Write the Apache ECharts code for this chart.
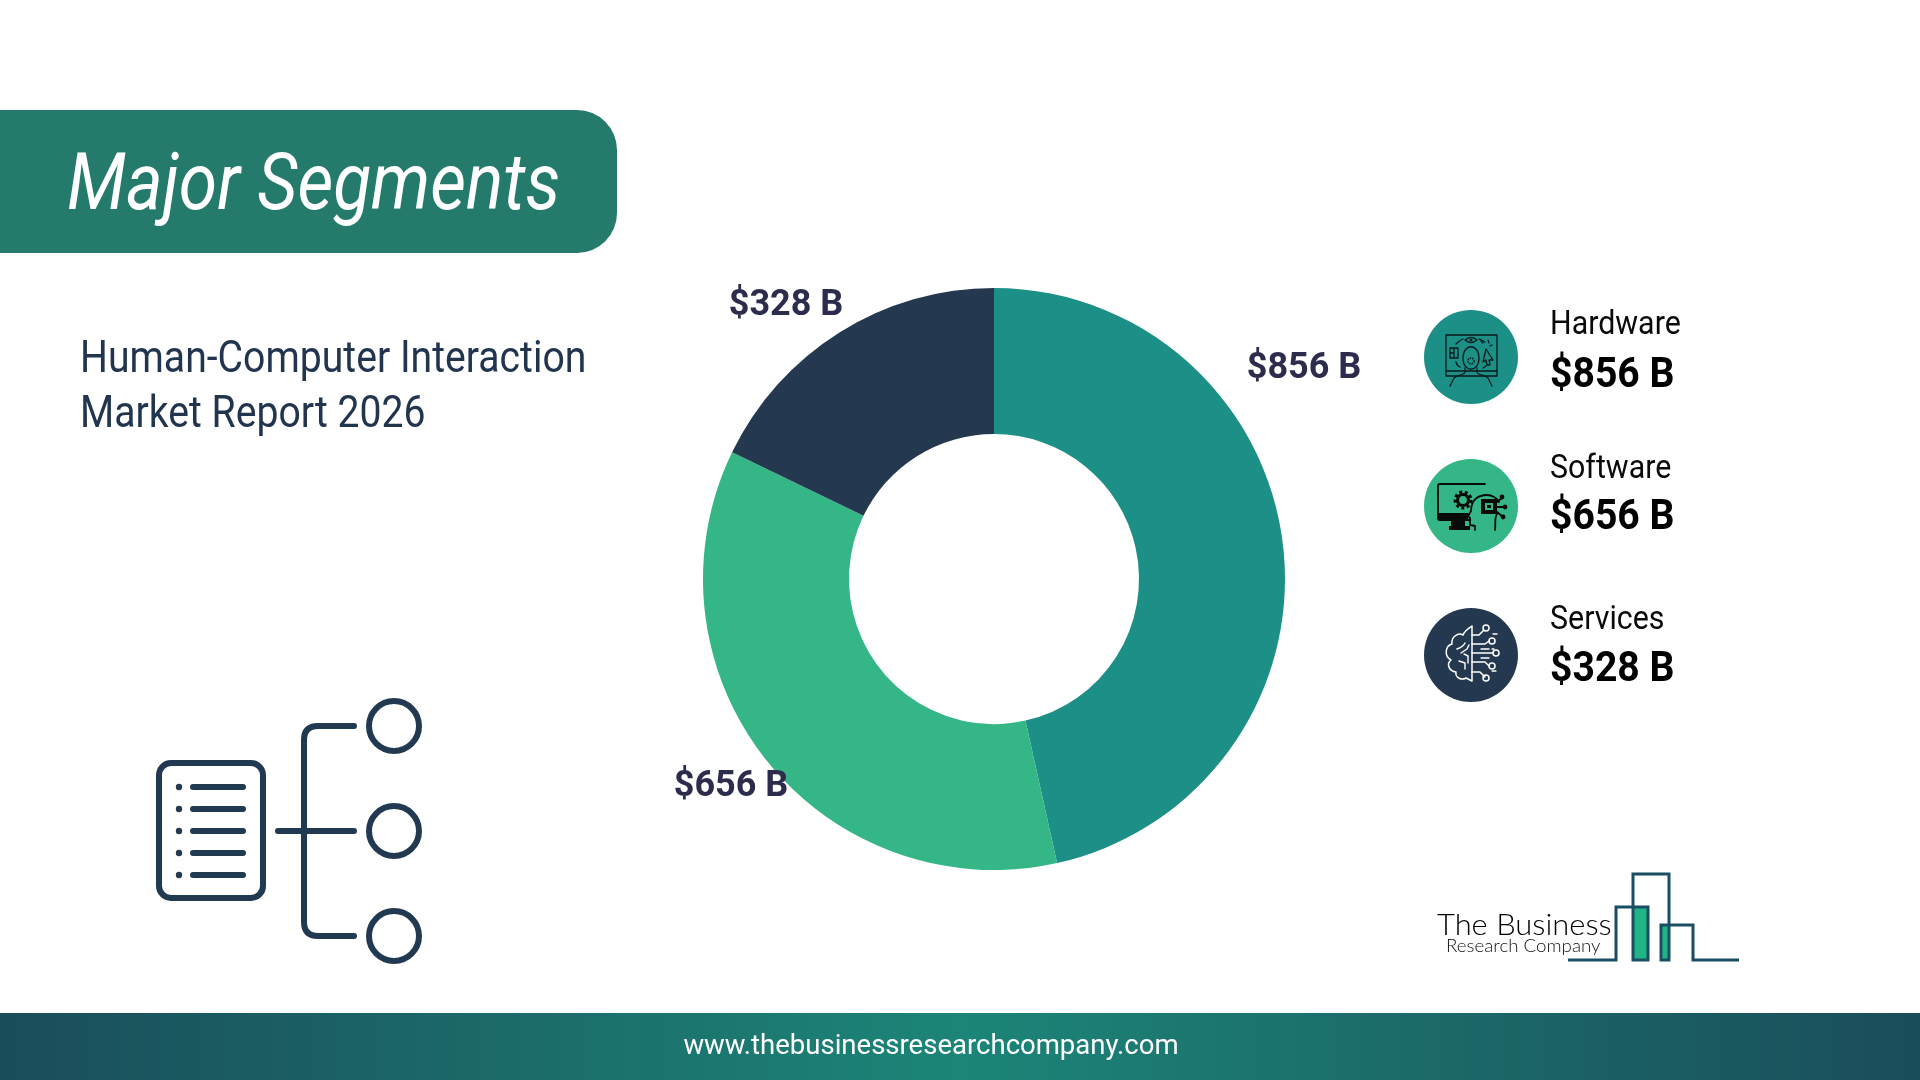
<!DOCTYPE html>
<html>
<head>
<meta charset="utf-8">
<style>html,body{margin:0;padding:0;background:#fff}#c{width:1920px;height:1080px}</style>
<script src="https://cdn.jsdelivr.net/npm/echarts@6/dist/echarts.min.js"></script>
</head>
<body>
<div id="c"></div>
<script>
const titleText = 'Major Segments';
const subtitleLines = ['Human-Computer Interaction', 'Market Report 2026'];
const footerText = 'www.thebusinessresearchcompany.com';
const categories = ['Hardware', 'Software', 'Services'];
const values = [856, 656, 328];
const sliceColors = ['#1c8f86', '#34b687', '#24394f'];

const fmt = v => '$' + v + ' B';
const navy = '#213a52';
const logoLine = '#1a4f63';
const logoGreen = '#20b587';

function txt(s, x, y, size, weight, fill, o) {
  o = o || {};
  return {
    type: 'text', x: x, y: y, scaleX: o.sx || 1, z: 10,
    style: {
      text: s, x: 0, y: 0, fill: fill,
      fontFamily: o.family || 'Roboto', fontSize: size, fontWeight: weight,
      fontStyle: o.style || 'normal',
      textAlign: o.align || 'left', textVerticalAlign: 'middle'
    }
  };
}
let pathCount = 0;
function pth(d, stroke, lw, fill) {
  const name = 'iconPath' + (pathCount++);
  echarts.graphic.registerShape(name, echarts.graphic.extendPath(d, {}));
  return { type: name,
    style: { stroke: stroke || 'none', lineWidth: lw || 0, fill: fill || 'none', lineCap: 'round', lineJoin: 'round' } };
}
function circ(cx, cy, r, stroke, lw, fill, dash) {
  const st = { stroke: stroke || 'none', lineWidth: lw || 0, fill: fill || 'none' };
  if (dash) st.lineDash = dash;
  return { type: 'circle', shape: { cx: cx, cy: cy, r: r }, style: st };
}

/* ---------- legend icons (local coordinates around the disc centre) ---------- */
const hardwareIcon = [
  pth('M-25 -22H26V19H-25Z', '#0b1a1c', 1.3),
  pth('M-25 14H26', '#0b1a1c', 1.3),
  pth('M-8 1C-8 -14 8 -14 8 1C8 16 -8 16 -8 1Z', '#0b1a1c', 1.3),
  pth('M-6 11V15C-6 18 -14 18 -17 21L-21 29M6 11V15C6 18 14 18 17 21L21 29', '#0b1a1c', 1.3),
  pth('M-6 -17Q0 -22 6 -17Q0 -12 -6 -17Z', '#0b1a1c', 1.3),
  circ(0, -17, 1.3, null, 0, '#0b1a1c'),
  pth('M-21 -9H-13V1H-21ZM-17 -9V1M-21 -4H-17', '#0b1a1c', 1.3),
  circ(0, 4, 3, '#0b1a1c', 1.5, 'none', [1.5, 1]),
  pth('M15 -8L22 3L18 3L19 8L16 8L15 3L12 5Z', '#0b1a1c', 1.3),
  pth('M-15 -13Q-11 -17 -8 -18M8 -18Q11 -17 14 -15M-15 5Q-14 9 -11 10M15 9Q14 10 12 11', '#0b1a1c', 1.3),
  pth('M10 -16L12 -14M17 -17L18 -14M21 -12L19 -11', '#0b1a1c', 1.2)
];
const softwareIcon = [
  pth('M14 -22H-31Q-33 -22 -33 -20V12Q-33 14 -31 14H-1', '#060a08', 1.8),
  pth('M-33 7H-3V14H-33Z', null, 0, '#060a08'),
  pth('M-20 14H-6V20H-1V24H-22V20H-20Z', null, 0, '#060a08'),
  circ(-8, -6, 5.5, '#060a08', 3.2),
  circ(-8, -6, 8, '#060a08', 3, 'none', [3, 2.6]),
  pth('M4 24V20L-1 19V12L-3 10L0 5C0 -6 7 -11 16 -11C21 -11 26 -8 28 -4M26 8C23 12 25 18 24 24', '#060a08', 1.8),
  pth('M10 -7H26V8H10Z', null, 0, '#060a08'),
  pth('M14 -3H22V4H14Z', null, 0, '#35b587'),
  pth('M16 -1H20V2H16Z', null, 0, '#060a08'),
  pth('M26 -4L31 -8M26 1H33M26 6L31 10', '#060a08', 1.8),
  circ(31, -9, 2.4, null, 0, '#060a08'),
  circ(34, 1, 2.4, null, 0, '#060a08'),
  circ(32, 11, 2.4, null, 0, '#060a08')
];
const servicesIcon = [
  pth('M1 -29V26L-5 23C-10 26 -16 22 -15 17C-22 16 -25 9 -20 5C-27 1 -26 -9 -19 -11C-20 -18 -13 -23 -8 -20C-6 -25 -2 -27 1 -29Z', '#fff', 1.5),
  pth('M-14 -6Q-8 -8 -6 -12M-10 -2L-4 -6L-2 -10M-12 6L-6 8V14M-7 -1L-3 1V8', '#fff', 1.4),
  pth('M1 -20H8L13 -25M1 -11H14L18 -14M1 -2H22M1 7H14L18 11M1 17H9L14 22', '#fff', 1.5),
  circ(15, -27, 3, '#fff', 1.5), circ(21, -14, 3, '#fff', 1.5), circ(25, -2, 3, '#fff', 1.5),
  circ(21, 11, 3, '#fff', 1.5), circ(15, 23, 3, '#fff', 1.5),
  pth('M22 -21H26M10 -6H18M21 -6H23M10 3H18M21 16H25', '#fff', 1.3)
];
const legendIcons = [hardwareIcon, softwareIcon, servicesIcon];
const legendCenterY = [357, 506, 655];
const legendNameY = [326, 470, 621];
const legendValueY = [376, 518, 670];

const legend = [];
categories.forEach((c, i) => {
  legend.push(circ(1471, legendCenterY[i], 47, null, 0, sliceColors[i]));
  legend.push({ type: 'group', x: 1471, y: legendCenterY[i], children: legendIcons[i], z: 10 });
  legend.push(txt(c, 1550, legendNameY[i], 33, 400, '#0a0a0a', { sx: 0.92 }));
  legend.push(txt(fmt(values[i]), 1550, legendValueY[i], 43, 700, '#000', { sx: 0.91 }));
});

/* ---------- bottom-left tree icon ---------- */
const treeIcon = [
  { type: 'rect', shape: { x: 159, y: 763, width: 104, height: 135, r: 12 }, style: { stroke: navy, lineWidth: 6, fill: 'none' } },
  pth('M304 740V922M354 726H318Q304 726 304 740M354 936H318Q304 936 304 922M278 831H354', navy, 6)
];
[787, 809, 831, 853, 875].forEach(y => {
  treeIcon.push(circ(179, y, 3.2, null, 0, navy));
  treeIcon.push(pth('M193 ' + y + 'H243', navy, 6));
});
[726, 831, 936].forEach(y => treeIcon.push(circ(394, y, 25, navy, 6)));

/* ---------- logo ---------- */
const logoParts = [
  { type: 'rect', shape: { x: 1633, y: 907, width: 15, height: 53 }, style: { fill: logoGreen } },
  { type: 'rect', shape: { x: 1661, y: 925, width: 8, height: 35 }, style: { fill: logoGreen } },
  { type: 'polyline', shape: { points: [[1568, 960], [1616, 960], [1616, 907], [1648, 907], [1648, 960], [1633, 960], [1633, 874], [1669, 874], [1669, 960], [1661, 960], [1661, 925], [1693, 925], [1693, 960], [1739, 960]] },
    style: { stroke: logoLine, lineWidth: 3, fill: 'none' }, z: 5 },
  txt('The Business', 1437, 925, 30, 300, '#000', { family: 'Lato', sx: 1.03 }),
  txt('Research Company', 1446, 946, 18, 300, '#111', { family: 'Lato', sx: 1.04 })
];

const labelPositions = [[1304, 369], [731, 787], [786, 306]];

const chart = echarts.init(document.getElementById('c'), null, { renderer: 'canvas' });
chart.setOption({
  animation: false,
  backgroundColor: '#ffffff',
  series: [{
    type: 'pie',
    center: [994, 579],
    radius: [145, 291],
    startAngle: 90,
    clockwise: true,
    color: sliceColors,
    silent: true,
    z: 5,
    label: {
      show: true, position: 'outside', formatter: p => fmt(p.value),
      fontFamily: 'Roboto', fontSize: 36, fontWeight: 700, color: '#2c2d4d'
    },
    labelLine: { show: false },
    labelLayout: p => {
      const q = labelPositions[p.dataIndex];
      return { x: q[0], y: q[1], align: 'center', verticalAlign: 'middle' };
    },
    data: categories.map((c, i) => ({ name: c, value: values[i] }))
  }],
  graphic: { elements: [
    { type: 'rect', shape: { x: -50, y: 110, width: 667, height: 143, r: 40 }, style: { fill: '#247b6c' } },
    txt(titleText, 67, 189, 80, 400, '#ffffff', { style: 'italic', sx: 0.87 }),
    txt(subtitleLines[0], 80, 361, 44, 400, '#22354f', { sx: 0.89 }),
    txt(subtitleLines[1], 80, 416, 44, 400, '#22354f', { sx: 0.89 }),
    { type: 'rect', shape: { x: 0, y: 1013, width: 1920, height: 67 },
      style: { fill: { type: 'linear', x: 0, y: 0, x2: 1, y2: 0, colorStops: [
        { offset: 0, color: '#1a4d5a' }, { offset: 0.5, color: '#1c8578' }, { offset: 1, color: '#1a4d5a' }] } } },
    txt(footerText, 931, 1047, 28, 400, '#ffffff', { align: 'center', sx: 0.983 }),
    ...legend,
    { type: 'group', children: treeIcon },
    { type: 'group', children: logoParts }
  ] }
});
</script>
</body>
</html>
